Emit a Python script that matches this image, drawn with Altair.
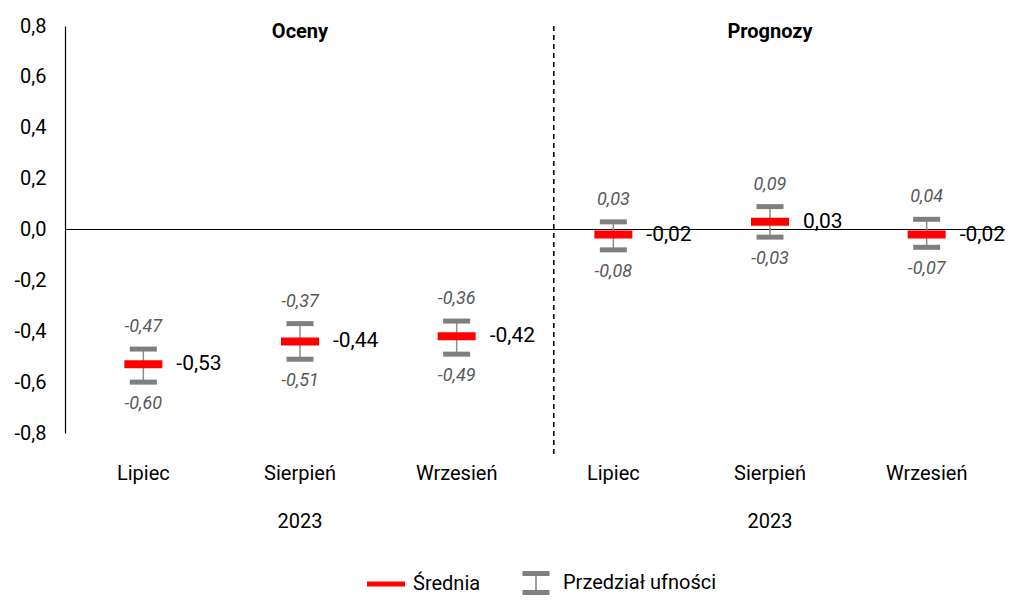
import altair as alt
import pandas as pd

groups = ["Oceny", "Prognozy"]
months = ["Lipiec", "Sierpień", "Wrzesień"]
year = "2023"
means = [-0.53, -0.44, -0.42, -0.02, 0.03, -0.02]
lower = [-0.60, -0.51, -0.49, -0.08, -0.03, -0.07]
upper = [-0.47, -0.37, -0.36, 0.03, 0.09, 0.04]
y_ticks = [-0.8, -0.6, -0.4, -0.2, 0.0, 0.2, 0.4, 0.6, 0.8]
legend_names = ["Średnia", "Przedział ufności"]

FONT = "Roboto"

keys = []
for gi, g in enumerate(groups):
    for mi, m in enumerate(months):
        k = f"{gi}|{m}"
        if mi == 1:
            k += f"|{year}"
        keys.append(k)


def pl(v):
    return f"{v:.2f}".replace(".", ",")


df = pd.DataFrame({
    "key": keys,
    "mean": means,
    "lo": lower,
    "hi": upper,
    "mean_lbl": [pl(v) for v in means],
    "lo_lbl": [pl(v) for v in lower],
    "hi_lbl": [pl(v) for v in upper],
})

titles = pd.DataFrame({"key": [keys[1], keys[4]], "t": groups})
sep = pd.DataFrame({"key": [keys[3]]})
leg = pd.DataFrame({"series": legend_names, "key": [keys[0]] * 2, "v": [0.0, 0.0]})

xscale = alt.Scale(domain=keys, paddingInner=0, paddingOuter=0)
xaxis = alt.Axis(
    title=None,
    labelExpr="length(split(datum.value,'|'))>2 ? [split(datum.value,'|')[1], split(datum.value,'|')[2]] : split(datum.value,'|')[1]",
    labelAngle=0, ticks=False, domain=False, labelPadding=30,
    labelFontSize=20, labelLineHeight=48, labelColor="#000000", labelFont=FONT,
)
yscale = alt.Scale(domain=[-0.8, 0.8], nice=False)
yaxis = alt.Axis(
    title=None, values=y_ticks, ticks=False, grid=False, domain=True,
    domainColor="#000000", domainWidth=1.2,
    labelExpr="replace(replace(format(datum.value, '.1f'), '.', ','), '\u2212', '-')",
    labelFontSize=20, labelFont=FONT, labelColor="#000000", labelPadding=19,
)

X = alt.X("key:N", scale=xscale, axis=xaxis, sort=keys)

base = alt.Chart(df)

stem = base.mark_rule(color="#8C8C8C", strokeWidth=1.5).encode(
    x=X, y=alt.Y("lo:Q", scale=yscale, axis=yaxis), y2="hi:Q")
cap_hi = base.mark_tick(color="#7F7F7F", size=27, thickness=5, opacity=1).encode(
    x=X, y=alt.Y("hi:Q", scale=yscale, axis=yaxis))
cap_lo = base.mark_tick(color="#7F7F7F", size=27, thickness=5, opacity=1).encode(
    x=X, y=alt.Y("lo:Q", scale=yscale, axis=yaxis))
mean_t = base.mark_tick(color="#FF0000", size=38, thickness=8, opacity=1).encode(
    x=X, y=alt.Y("mean:Q", scale=yscale, axis=yaxis))
mean_lbl = base.mark_text(align="left", baseline="middle", dx=33, fontSize=21,
                          font=FONT, color="#000000").encode(
    x=X, y=alt.Y("mean:Q", scale=yscale, axis=yaxis), text="mean_lbl:N")
hi_lbl = base.mark_text(align="center", baseline="middle", dy=-22, fontSize=18,
                        font=FONT, fontStyle="italic", color="#595959").encode(
    x=X, y=alt.Y("hi:Q", scale=yscale, axis=yaxis), text="hi_lbl:N")
lo_lbl = base.mark_text(align="center", baseline="middle", dy=22, fontSize=18,
                        font=FONT, fontStyle="italic", color="#595959").encode(
    x=X, y=alt.Y("lo:Q", scale=yscale, axis=yaxis), text="lo_lbl:N")

zero = alt.Chart(df).mark_rule(color="#000000", strokeWidth=1).encode(
    y=alt.Y("z:Q", scale=yscale, axis=yaxis)).transform_calculate(z="0").transform_filter("datum.key == '0|Lipiec'")

sep_rule = alt.Chart(sep).mark_rule(color="#000000", strokeWidth=1.5, strokeDash=[5, 4]).encode(
    x=alt.X("key:N", scale=xscale, axis=xaxis, sort=keys, bandPosition=0.12),
    y=alt.datum(0.8), y2=alt.datum(-0.89))

title_t = alt.Chart(titles).mark_text(fontSize=20, fontWeight="bold", font=FONT,
                                      color="#000000", baseline="middle", dy=6).encode(
    x=X, y=alt.datum(0.8), text="t:N")

p1 = "M-1,-0.13H1V0.13H-1Z"
p2 = ("M-0.71,-0.63H0.71V-0.37H0.04V0.37H0.71V0.63H-0.71V0.37H-0.04V-0.37H-0.71Z")
legend_def = alt.Legend(
    title=None, orient="none", legendX=302, legendY=538, direction="horizontal",
    symbolSize=1444, symbolOpacity=1, symbolStrokeWidth=0, labelFontSize=20,
    labelFont=FONT, labelColor="#000000", labelOffset=8, columnPadding=36,
)
legend_layer = alt.Chart(leg).mark_point(filled=True, opacity=0).encode(
    x=X, y=alt.Y("v:Q", scale=yscale, axis=yaxis),
    color=alt.Color("series:N", scale=alt.Scale(domain=legend_names, range=["#FF0000", "#7F7F7F"]),
                    legend=legend_def),
    shape=alt.Shape("series:N", scale=alt.Scale(domain=legend_names, range=[p1, p2]),
                    legend=legend_def),
)

chart = alt.layer(
    zero, sep_rule, stem, cap_hi, cap_lo, mean_t, mean_lbl, hi_lbl, lo_lbl, title_t, legend_layer
).properties(
    width=940, height=407,
    autosize=alt.AutoSizeParams(type="none"),
    padding={"left": 57, "top": 18, "right": 2, "bottom": 164},
).configure_view(stroke=None).configure_axis(grid=False)

chart.save("out.html", embed_options={"renderer": "svg", "actions": False})
